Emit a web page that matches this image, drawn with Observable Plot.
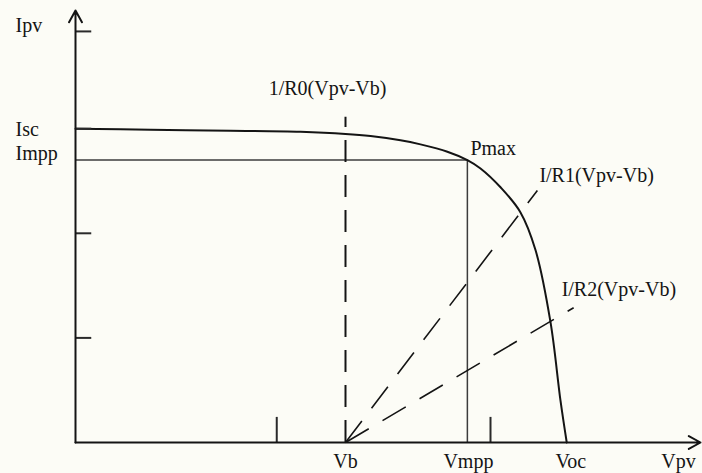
<!DOCTYPE html>
<html>
<head>
<meta charset="utf-8">
<script src="https://cdn.jsdelivr.net/npm/d3@7"></script>
<script src="https://cdn.jsdelivr.net/npm/@observablehq/plot@0.6"></script>
<style>
  html, body { margin: 0; padding: 0; background: #fcfcf6; }
  #chart svg { display: block; }
</style>
</head>
<body>
<div id="chart"></div>
<script>
// PV array I–V characteristic with resistive load lines through Vb
const vpv = [0, 1.2, 2.48, 3.6, 4.32, 4.72, 5.2, 5.52, 5.95, 6.27, 6.48, 6.8, 7.12, 7.36, 7.6, 7.76, 7.86];
const ipv = [3.0, 2.99, 2.98, 2.97, 2.95, 2.93, 2.89, 2.85, 2.78, 2.70, 2.62, 2.44, 2.20, 1.84, 1.15, 0.40, 0];

const Vb = 4.32, Vmpp = 6.27, Voc = 7.86;
const Isc = 3.0, Impp = 2.70;

const xTicks = [3.22, 6.64];
const yTicks = [1, 2, 3, 3.93];
const xMax = 10, yMax = 4.13;

// load lines I = (Vpv - Vb) / R, drawn from Vb up to vEnd
const loadNames = ["I/R1(Vpv-Vb)", "I/R2(Vpv-Vb)"];
const loadConductance = [0.785, 0.353];
const loadEnd = [7.39, 7.97];
const r0Name = "1/R0(Vpv-Vb)";
const r0Top = 3.11;

const xLabels = ["Vb", "Vmpp", "Voc", "Vpv"];
const yLabels = ["Ipv", "Isc", "Impp"];

const curve = vpv.map((v, i) => ({v, i: ipv[i]}));
const loads = loadNames.map((name, k) => ({
  name,
  x2: loadEnd[k],
  y2: loadConductance[k] * (loadEnd[k] - Vb)
}));

const font = "'Liberation Serif', 'Times New Roman', serif";
const ink = "#141414";
const textStyle = {fontSize: 20, fill: ink, lineAnchor: "bottom"};

// every label is anchored to a data position plus a small pixel nudge
const labels = [
  {text: xLabels[0], x: Vb, y: 0, dx: 0, dy: 25, anchor: "middle"},
  {text: xLabels[1], x: Vmpp, y: 0, dx: 1, dy: 25, anchor: "middle"},
  {text: xLabels[2], x: Voc, y: 0, dx: 4, dy: 25, anchor: "middle"},
  {text: xLabels[3], x: xMax, y: 0, dx: -22, dy: 25, anchor: "middle"},
  {text: yLabels[0], x: 0, y: yTicks[3], dx: -60, dy: 1, anchor: "start"},
  {text: yLabels[1], x: 0, y: Isc, dx: -60, dy: 7, anchor: "start"},
  {text: yLabels[2], x: 0, y: Impp, dx: -60, dy: 0, anchor: "start"},
  {text: r0Name, x: Vb, y: r0Top, dx: -18, dy: -22, anchor: "middle"},
  {text: "Pmax", x: Vmpp, y: Impp, dx: 3, dy: -5, anchor: "start"},
  {text: loads[0].name, x: loads[0].x2, y: loads[0].y2, dx: 2, dy: -8, anchor: "start"},
  {text: loads[1].name, x: loads[1].x2, y: loads[1].y2, dx: -12, dy: -12, anchor: "start"}
];

const chart = Plot.plot({
  width: 702,
  height: 473,
  marginLeft: 75,
  marginRight: 2,
  marginTop: 10,
  marginBottom: 31,
  x: {domain: [0, xMax], axis: null},
  y: {domain: [0, yMax], axis: null},
  style: {background: "#fcfcf6", fontFamily: font},
  marks: [
    // maximum power point guides
    Plot.ruleY([Impp], {x1: 0, x2: Vmpp, stroke: "#3c3c3c", strokeWidth: 1.5}),
    Plot.ruleX([Vmpp], {y1: 0, y2: Impp, stroke: "#3c3c3c", strokeWidth: 1.5}),
    // vertical load line (R0) at Vb
    Plot.ruleX([Vb], {y1: 0, y2: r0Top, stroke: ink, strokeWidth: 2, strokeDasharray: "22,13"}),
    // sloped load lines
    Plot.link(loads, {x1: Vb, y1: 0, x2: "x2", y2: "y2", stroke: ink, strokeWidth: 1.6, strokeDasharray: "27,16"}),
    // I–V curve
    Plot.line(curve, {x: "v", y: "i", curve: "catmull-rom", stroke: ink, strokeWidth: 2}),
    // ticks
    Plot.ruleY(yTicks, {x1: 0, x2: 0.26, stroke: "#2a2a2a", strokeWidth: 2}),
    Plot.ruleX(xTicks, {y1: 0, y2: 0.24, stroke: "#2a2a2a", strokeWidth: 2}),
    // axes with arrowheads
    Plot.arrow([{x1: 0, y1: 0, x2: xMax, y2: 0}, {x1: 0, y1: 0, x2: 0, y2: yMax}], {
      x1: "x1", y1: "y1", x2: "x2", y2: "y2",
      stroke: ink, strokeWidth: 2, headLength: 10, headAngle: 58
    }),
    // labels and annotations
    ...labels.map(d => Plot.text([d], {
      x: "x", y: "y", text: "text", dx: d.dx, dy: d.dy, textAnchor: d.anchor, ...textStyle
    }))
  ]
});

document.getElementById("chart").append(chart);
</script>
</body>
</html>
